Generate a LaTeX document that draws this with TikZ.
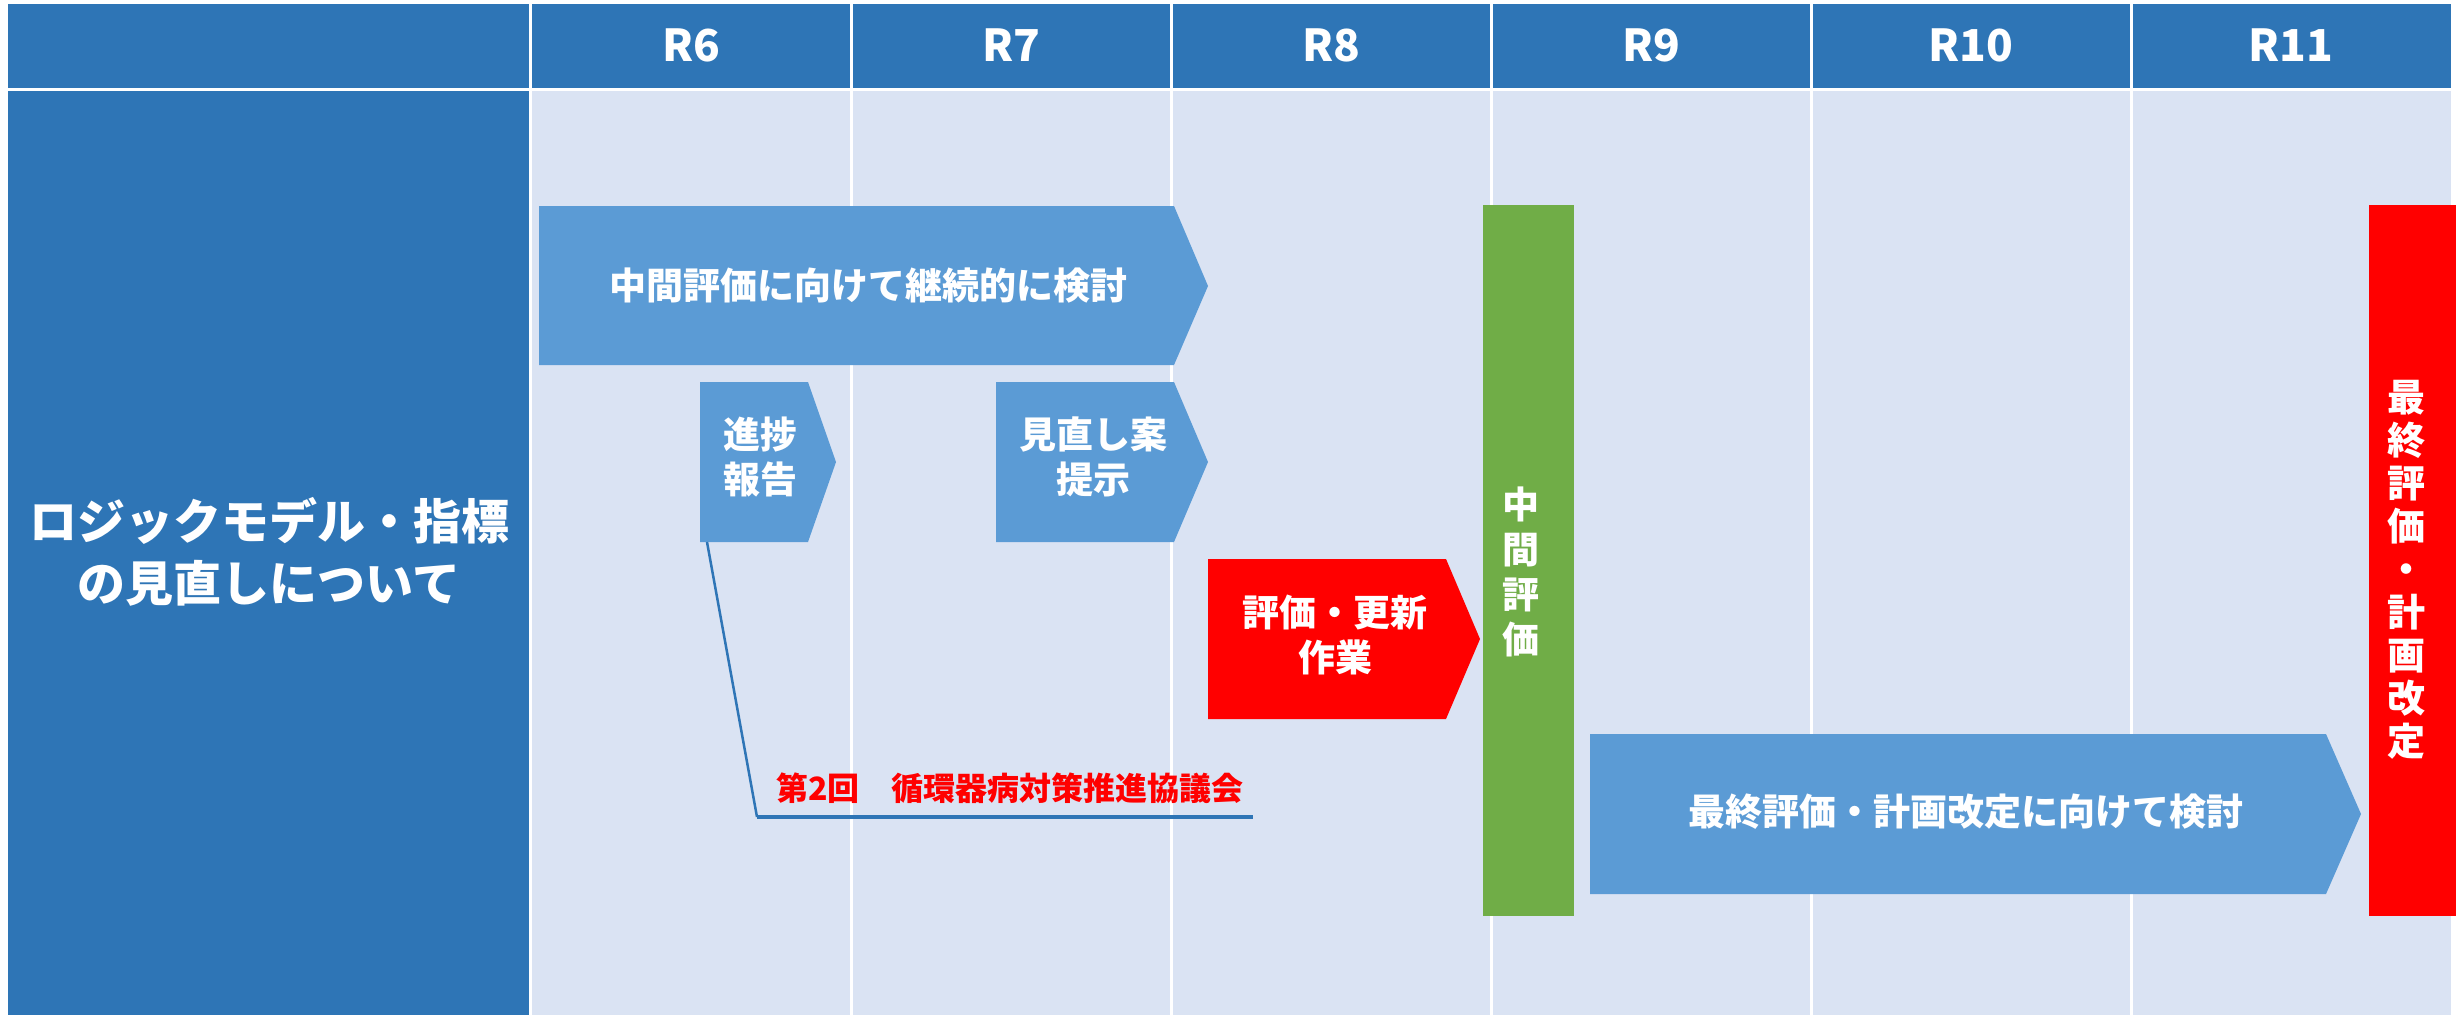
\documentclass[tikz,border=0pt]{standalone}
\usepackage{fontspec}
\setmainfont{Noto Sans CJK JP}
\definecolor{hdr}{HTML}{2E75B6}
\definecolor{bodybg}{HTML}{DAE3F3}
\definecolor{arr}{HTML}{5B9BD5}
\definecolor{grn}{HTML}{70AD47}
\definecolor{rd}{HTML}{FF0000}
\begin{document}
\begin{tikzpicture}[x=1pt,y=-1pt,
  lbl/.style={text=white, font=\bfseries\fontsize{37}{45}\selectfont, align=center, inner sep=0pt},
  hlbl/.style={text=white, font=\bfseries\fontsize{44}{50}\selectfont, inner sep=0pt},
  sepline/.style={white, line width=3pt},
  conn/.style={hdr, line width=3pt},
]
\useasboundingbox (0,0) rectangle (2456,1015);
\fill[white] (0,0) rectangle (2456,1015);
% header
\fill[hdr] (8,4) rectangle (2451,88);
% body
\fill[hdr] (8,91) rectangle (530,1015);
\fill[bodybg] (531,91) rectangle (2451,1015);
\foreach \xx in {530.5,851,1171,1491,1811,2131} {
  \draw[sepline] (\xx,4) -- (\xx,1015);
}
\draw[white, line width=3pt] (8,89.5) -- (2451,89.5);
% header labels
\node[hlbl] (r6)  at (691,45)  {R6};
\node[hlbl] (r7)  at (1011,45) {R7};
\node[hlbl] (r8)  at (1331,45) {R8};
\node[hlbl] (r9)  at (1651,45) {R9};
\node[hlbl] (r10) at (1971,45) {R10};
\node[hlbl] (r11) at (2291,45) {R11};
% left label
\node[text=white, font=\bfseries\fontsize{48}{62}\selectfont, align=center, inner sep=0pt] (title) at (269,552)
  {ロジックモデル・指標\\の見直しについて};
% arrows
\fill[arr] (539,206) -- (1174,206) -- (1208,286) -- (1174,365) -- (539,365) -- cycle;
\node[lbl] (a1) at (868,286) {中間評価に向けて継続的に検討};
\fill[arr] (700,382) -- (808,382) -- (836,462) -- (808,542) -- (700,542) -- cycle;
\node[lbl] (a2) at (760,457) {進捗\\報告};
\fill[arr] (996,382) -- (1174,382) -- (1208,462) -- (1174,542) -- (996,542) -- cycle;
\node[lbl] (a3) at (1093,457) {見直し案\\提示};
\fill[rd] (1208,559) -- (1446,559) -- (1480,639) -- (1446,719) -- (1208,719) -- cycle;
\node[lbl] (a4) at (1335,635) {評価・更新\\作業};
\fill[arr] (1590,734) -- (2326,734) -- (2361,814) -- (2326,894) -- (1590,894) -- cycle;
\node[lbl] (a5) at (1966,812) {最終評価・計画改定に向けて検討};
% vertical bars
\fill[grn] (1483,205) rectangle (1574,916);
\node[lbl] (mid) at (1521,572) {中\\間\\評\\価};
\fill[rd] (2369,205) rectangle (2456,916);
\node[text=white, font=\bfseries\fontsize{38}{43}\selectfont, align=center, inner sep=0pt] (fin) at (2406,570)
  {最\\終\\評\\価\\・\\計\\画\\改\\定};
% connector
\coordinate (k0) at (707,542);
\coordinate (k1) at (757,817);
\coordinate (k2) at (1253,817);
\draw[conn, line width=2.5pt] (k0) -- (k1);
\draw[conn, line width=4pt] (k1) -- (k2);
\node[text=rd, font=\bfseries\fontsize{32}{38}\selectfont, inner sep=0pt] (mtg) at (1010,788) {第2回　循環器病対策推進協議会};
\end{tikzpicture}
\end{document}
